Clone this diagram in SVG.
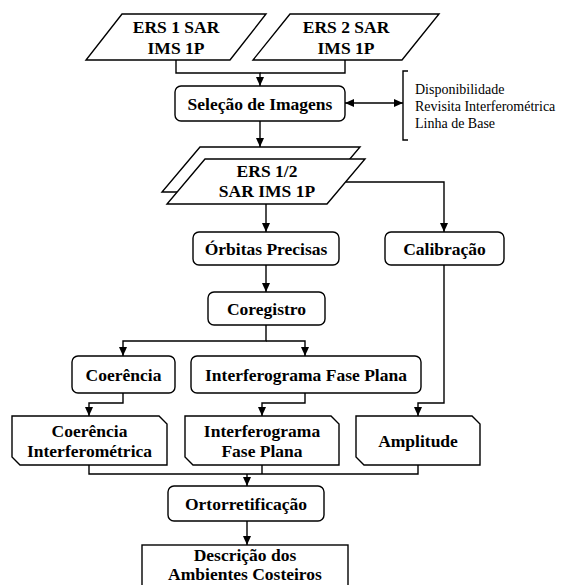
<svg xmlns="http://www.w3.org/2000/svg" width="563" height="585" viewBox="0 0 563 585">
<style>
.s{fill:#fff;stroke:#000;stroke-width:1.4}
.b{font-family:'Liberation Serif','Times New Roman',serif;font-weight:bold;font-size:17.5px;fill:#000;text-anchor:middle}
.n{font-family:'Liberation Serif','Times New Roman',serif;font-size:14px;fill:#000}
.c{fill:none;stroke:#000;stroke-width:1.4}
</style>
<defs>
<marker id="ar" markerWidth="9" markerHeight="8" refX="9" refY="4" orient="auto-start-reverse" markerUnits="userSpaceOnUse">
<path d="M0,0 L9,4 L0,8 z" fill="#000"/>
</marker>
</defs>
<rect width="563" height="585" fill="#fff"/>
<g id="connectors">
<path class="c" d="M176,60 V73 H260 V86" marker-end="url(#ar)"/>
<path class="c" d="M345,60 V73 H260"/>
<path class="c" d="M345,103 H403" marker-start="url(#ar)" marker-end="url(#ar)"/>
<path class="c" d="M260,121 V147" marker-end="url(#ar)"/>
<path class="c" d="M266,204 V232" marker-end="url(#ar)"/>
<path class="c" d="M346,182 H444 V232" marker-end="url(#ar)"/>
<path class="c" d="M266,265 V292" marker-end="url(#ar)"/>
<path class="c" d="M266,325 V341 H123 V356" marker-end="url(#ar)"/>
<path class="c" d="M266,341 H305 V356" marker-end="url(#ar)"/>
<path class="c" d="M123,393 V403 H89 V416" marker-end="url(#ar)"/>
<path class="c" d="M305,393 V403 H262 V416" marker-end="url(#ar)"/>
<path class="c" d="M444,265 V403 H418 V416" marker-end="url(#ar)"/>
<path class="c" d="M89,465 V474 H418 V465"/>
<path class="c" d="M262,465 V474"/>
<path class="c" d="M247,474 V486" marker-end="url(#ar)"/>
<path class="c" d="M247,521 V545" marker-end="url(#ar)"/>
</g>
<g id="ers1">
<polygon class="s" points="122,14 266,14 230,60 86,60"/>
<text class="b" x="176" y="33">ERS 1 SAR</text>
<text class="b" x="176" y="54">IMS 1P</text>
</g>
<g id="ers2">
<polygon class="s" points="290,14 439,14 402,60 253,60"/>
<text class="b" x="346" y="33">ERS 2 SAR</text>
<text class="b" x="346" y="54">IMS 1P</text>
</g>
<g id="selecao">
<rect class="s" x="175" y="86" width="170" height="35" rx="6"/>
<text class="b" x="260" y="109.5">Seleção de Imagens</text>
</g>
<g id="criterios">
<path class="c" d="M408,71 H403 V140 H408"/>
<text class="n" x="415" y="94">Disponibilidade</text>
<text class="n" x="415" y="111">Revisita Interferométrica</text>
<text class="n" x="415" y="128">Linha de Base</text>
</g>
<g id="ers12">
<polygon class="s" points="200,147 360,147 322,192 162,192"/>
<polygon class="s" points="205,159 365,159 327,204 167,204"/>
<text class="b" x="267" y="177">ERS 1/2</text>
<text class="b" x="267" y="197">SAR IMS 1P</text>
</g>
<g id="orbitas">
<rect class="s" x="193" y="232" width="146" height="33" rx="6"/>
<text class="b" x="266" y="254.5">Órbitas Precisas</text>
</g>
<g id="calibracao">
<rect class="s" x="385" y="232" width="119" height="33" rx="6"/>
<text class="b" x="444.5" y="254.5">Calibração</text>
</g>
<g id="coregistro">
<rect class="s" x="208" y="292" width="117" height="33" rx="6"/>
<text class="b" x="266.5" y="314.5">Coregistro</text>
</g>
<g id="coerencia">
<rect class="s" x="72" y="356" width="103" height="37" rx="6"/>
<text class="b" x="123.5" y="380.5">Coerência</text>
</g>
<g id="interferograma">
<rect class="s" x="191" y="356" width="230" height="37" rx="6"/>
<text class="b" x="306" y="380.5">Interferograma Fase Plana</text>
</g>
<g id="coerencia-interf">
<polygon class="s" points="12,416 159,416 167,424 167,465 20,465 12,457"/>
<text class="b" x="89.5" y="437">Coerência</text>
<text class="b" x="89.5" y="457">Interferométrica</text>
</g>
<g id="interf-fase">
<polygon class="s" points="185,416 331,416 339,424 339,465 193,465 185,457"/>
<text class="b" x="262" y="437">Interferograma</text>
<text class="b" x="262" y="457">Fase Plana</text>
</g>
<g id="amplitude">
<polygon class="s" points="356,416 472,416 480,424 480,465 364,465 356,457"/>
<text class="b" x="418" y="447">Amplitude</text>
</g>
<g id="ortorretificacao">
<rect class="s" x="168" y="486" width="156" height="35" rx="6"/>
<text class="b" x="246" y="509.5">Ortorretificação</text>
</g>
<g id="descricao">
<rect class="s" x="142" y="545" width="206" height="44"/>
<text class="b" x="245" y="561">Descrição dos</text>
<text class="b" x="245" y="580">Ambientes Costeiros</text>
</g>
</svg>
